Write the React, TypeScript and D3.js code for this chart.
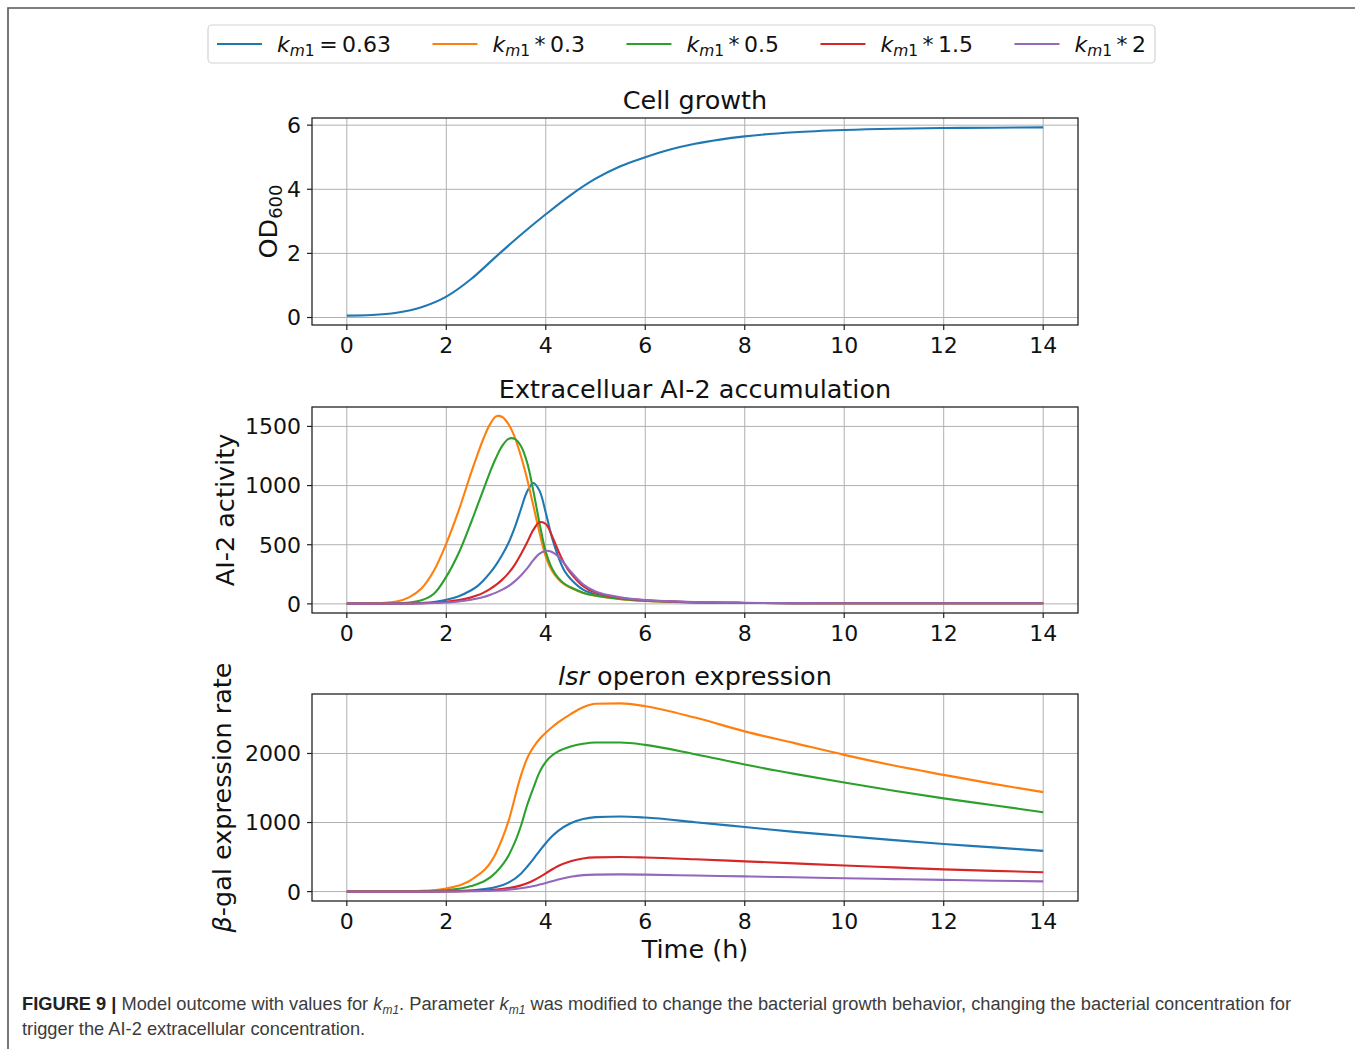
import React, { useEffect, useRef } from "react";
import * as d3 from "d3";

// ---------------- data ----------------
const seriesOps = ["=", "*", "*", "*", "*"];
const seriesFactors = ["0.63", "0.3", "0.5", "1.5", "2"];
const seriesColors = ["#1f77b4", "#ff7f0e", "#2ca02c", "#d62728", "#9467bd"];

const xTicks = [0, 2, 4, 6, 8, 10, 12, 14];

// Panel 1: Cell growth
const timesGrowth = [0, 0.5, 1, 1.5, 2, 2.5, 3, 3.5, 4, 4.5, 5, 5.5, 6, 6.5, 7, 7.5, 8, 9, 10, 11, 12, 13, 14];
const od600 = [0.06, 0.08, 0.15, 0.32, 0.65, 1.2, 1.9, 2.58, 3.22, 3.82, 4.33, 4.72, 5.0, 5.24, 5.42, 5.55, 5.65, 5.78, 5.85, 5.89, 5.91, 5.92, 5.93];
const yTicksGrowth = [0, 2, 4, 6];

// Panel 2: Extracellular AI-2
const timesAI2 = [0, 0.5, 1, 1.25, 1.5, 1.75, 2, 2.25, 2.5, 2.625, 2.75, 2.875, 3, 3.125, 3.25, 3.375, 3.5, 3.625, 3.75, 3.875, 4, 4.125, 4.25, 4.375, 4.5, 4.75, 5, 5.5, 6, 7, 8, 9, 10, 11, 12, 13, 14];
const ai2Base = [2, 2, 3, 4, 8, 16, 35, 65, 115, 150, 200, 260, 330, 415, 515, 645, 800, 950, 1022, 955, 770, 560, 400, 280, 210, 120, 80, 45, 28, 13, 8, 6, 5, 5, 5, 5, 5];
const ai2K03 = [2, 3, 20, 55, 130, 280, 510, 790, 1110, 1260, 1400, 1515, 1585, 1580, 1520, 1410, 1250, 1055, 830, 600, 400, 280, 210, 165, 135, 92, 68, 40, 25, 12, 8, 6, 5, 5, 5, 5, 5];
const ai2K05 = [2, 2, 5, 12, 30, 85, 230, 430, 690, 830, 970, 1110, 1235, 1335, 1395, 1395, 1335, 1195, 955, 680, 440, 300, 220, 170, 140, 95, 70, 42, 26, 13, 8, 6, 5, 5, 5, 5, 5];
const ai2K15 = [2, 2, 2, 3, 5, 10, 18, 32, 55, 72, 95, 125, 160, 205, 260, 330, 420, 520, 625, 690, 675, 575, 450, 340, 260, 150, 95, 50, 30, 14, 8, 6, 5, 5, 5, 5, 5];
const ai2K2 = [2, 2, 2, 3, 4, 7, 12, 20, 35, 45, 58, 75, 95, 120, 150, 190, 240, 300, 370, 425, 448, 438, 400, 340, 275, 165, 105, 55, 32, 15, 9, 6, 5, 5, 5, 5, 5];
const yTicksAI2 = [0, 500, 1000, 1500];

// Panel 3: lsr operon expression
const timesLsr = [0, 0.5, 1, 1.5, 2, 2.5, 3, 3.25, 3.5, 3.625, 3.75, 3.875, 4, 4.125, 4.25, 4.5, 4.75, 5, 5.5, 6, 7, 8, 9, 10, 11, 12, 13, 14];
const lsrBase = [0, 0, 0, 1, 5, 18, 65, 130, 260, 360, 470, 590, 700, 800, 880, 990, 1050, 1078, 1088, 1072, 1005, 935, 865, 805, 745, 690, 640, 590];
const lsrK03 = [0, 0, 2, 10, 45, 170, 560, 1020, 1680, 1930, 2090, 2210, 2300, 2380, 2450, 2570, 2670, 2720, 2725, 2685, 2520, 2320, 2150, 1980, 1825, 1690, 1560, 1440];
const lsrK05 = [0, 0, 1, 5, 20, 80, 280, 520, 950, 1250, 1500, 1730, 1880, 1970, 2030, 2100, 2140, 2160, 2158, 2125, 1990, 1840, 1705, 1580, 1460, 1350, 1250, 1150];
const lsrK15 = [0, 0, 0, 0, 2, 8, 28, 50, 90, 120, 160, 210, 265, 320, 370, 440, 480, 495, 500, 493, 468, 438, 408, 378, 350, 322, 300, 280];
const lsrK2 = [0, 0, 0, 0, 1, 5, 15, 28, 48, 62, 80, 102, 125, 150, 175, 215, 238, 246, 249, 246, 233, 220, 207, 193, 181, 169, 158, 148];
const yTicksLsr = [0, 1000, 2000];

// ---------------- layout ----------------
const W = 1355;
const H = 1049;
const FONT = "'DejaVu Sans', sans-serif";

export default function App() {
  const ref = useRef<SVGSVGElement | null>(null);

  useEffect(() => {
    const svg = d3.select(ref.current);
    svg.selectAll("*").remove();

    // frame
    svg.append("path").attr("d", `M8,${H} L8,8 L${W},8`).attr("fill", "none").attr("stroke", "#555").attr("stroke-width", 1.6);

    const axL = 312, axR = 1078;
    const x = d3.scaleLinear().domain([-0.7, 14.7]).range([axL, axR]);

    const panels = [
      { top: 118, bottom: 325, times: timesGrowth, series: [od600], yTicks: yTicksGrowth, curve: d3.curveMonotoneX },
      { top: 407, bottom: 613, times: timesAI2, series: [ai2Base, ai2K03, ai2K05, ai2K15, ai2K2], yTicks: yTicksAI2, curve: d3.curveCatmullRom.alpha(0.5) },
      { top: 694, bottom: 901, times: timesLsr, series: [lsrBase, lsrK03, lsrK05, lsrK15, lsrK2], yTicks: yTicksLsr, curve: d3.curveMonotoneX },
    ];

    panels.forEach((p, pi) => {
      const all = p.series.flat();
      const mn = d3.min(all) as number, mx = d3.max(all) as number;
      const m = (mx - mn) * 0.05;
      const y = d3.scaleLinear().domain([mn - m, mx + m]).range([p.bottom, p.top]);
      const g = svg.append("g");
      const clipId = `clip${pi}`;
      g.append("clipPath").attr("id", clipId).append("rect").attr("x", axL).attr("y", p.top).attr("width", axR - axL).attr("height", p.bottom - p.top);

      // grid
      g.selectAll(".gx").data(xTicks).enter().append("line")
        .attr("x1", d => x(d)).attr("x2", d => x(d)).attr("y1", p.top).attr("y2", p.bottom)
        .attr("stroke", "#b0b0b0").attr("stroke-width", 1);
      g.selectAll(".gy").data(p.yTicks).enter().append("line")
        .attr("x1", axL).attr("x2", axR).attr("y1", d => y(d)).attr("y2", d => y(d))
        .attr("stroke", "#b0b0b0").attr("stroke-width", 1);

      // lines
      p.series.forEach((s, si) => {
        const line = d3.line<number>().x((_, i) => x(p.times[i])).y(d => y(d)).curve(p.curve as any);
        g.append("path").attr("d", line(s) as string).attr("fill", "none")
          .attr("stroke", seriesColors[si]).attr("stroke-width", 2.1).attr("stroke-linejoin", "round")
          .attr("clip-path", `url(#${clipId})`);
      });

      // spines
      g.append("rect").attr("x", axL).attr("y", p.top).attr("width", axR - axL).attr("height", p.bottom - p.top)
        .attr("fill", "none").attr("stroke", "#222").attr("stroke-width", 1.3);

      // ticks
      g.selectAll(".tx").data(xTicks).enter().append("line")
        .attr("x1", d => x(d)).attr("x2", d => x(d)).attr("y1", p.bottom).attr("y2", p.bottom + 5)
        .attr("stroke", "#222").attr("stroke-width", 1.2);
      g.selectAll(".tl").data(xTicks).enter().append("text")
        .attr("x", d => x(d)).attr("y", p.bottom + 28).attr("text-anchor", "middle")
        .attr("font-family", FONT).attr("font-size", 22).attr("fill", "#111").text(d => String(d));
      g.selectAll(".ty").data(p.yTicks).enter().append("line")
        .attr("x1", axL - 5).attr("x2", axL).attr("y1", d => y(d)).attr("y2", d => y(d))
        .attr("stroke", "#222").attr("stroke-width", 1.2);
      g.selectAll(".yl").data(p.yTicks).enter().append("text")
        .attr("x", axL - 11).attr("y", d => y(d)).attr("dy", "0.36em").attr("text-anchor", "end")
        .attr("font-family", FONT).attr("font-size", 22).attr("fill", "#111").text(d => String(d));

      // titles
      const cx = (axL + axR) / 2;
      const t = g.append("text").attr("x", cx).attr("y", p.top - 9).attr("text-anchor", "middle")
        .attr("font-family", FONT).attr("font-size", 25.5).attr("fill", "#111");
      if (pi === 0) t.text("Cell growth");
      if (pi === 1) t.text("Extracelluar AI-2 accumulation");
      if (pi === 2) {
        t.append("tspan").attr("font-style", "italic").text("lsr");
        t.append("tspan").text(" operon expression");
      }

      // y labels
      const cy = (p.top + p.bottom) / 2;
      const lx = [268, 225, 222][pi];
      const yl = g.append("text").attr("transform", `translate(${lx},${cy}) rotate(-90)`)
        .attr("text-anchor", "middle").attr("dy", "0.36em")
        .attr("font-family", FONT).attr("font-size", 25.5).attr("fill", "#111");
      if (pi === 0) {
        yl.append("tspan").text("OD");
        yl.append("tspan").attr("font-size", 18).attr("dy", 5).text("600");
      }
      if (pi === 1) yl.text("AI-2 activity");
      if (pi === 2) {
        yl.append("tspan").attr("font-style", "italic").text("β");
        yl.append("tspan").text("-gal expression rate");
      }
    });

    // x label
    svg.append("text").attr("x", (axL + axR) / 2).attr("y", 958).attr("text-anchor", "middle")
      .attr("font-family", FONT).attr("font-size", 25.5).attr("fill", "#111").text("Time (h)");

    // legend
    const lg = svg.append("g");
    const boxL = 208, boxR = 1155;
    const box = lg.append("rect").attr("y", 25).attr("height", 38).attr("rx", 4)
      .attr("x", boxL).attr("width", boxR - boxL)
      .attr("fill", "white").attr("stroke", "#d3d3d3").attr("stroke-width", 1.2);
    const items: { line: any; text: any; w: number }[] = [];
    seriesOps.forEach((op, i) => {
      const ln = lg.append("line").attr("y1", 44).attr("y2", 44).attr("stroke", seriesColors[i]).attr("stroke-width", 2);
      const tx = lg.append("text").attr("y", 52).attr("font-family", FONT).attr("font-size", 22).attr("fill", "#111");
      tx.append("tspan").attr("font-style", "italic").text("k");
      tx.append("tspan").attr("font-style", "italic").attr("font-size", 15.5).attr("dy", 4).text("m");
      tx.append("tspan").attr("font-size", 15.5).text("1");
      tx.append("tspan").attr("dy", -4).text("\u2009" + op + "\u2009" + seriesFactors[i]);
      const w = (tx.node() as SVGTextElement).getComputedTextLength();
      items.push({ line: ln, text: tx, w });
    });
    const handleLen = 45, pad = 15, border = 9;
    const sumItems = items.reduce((a, it) => a + handleLen + pad + it.w, 0);
    const colSp = (boxR - boxL - 2 * border - sumItems) / (items.length - 1);
    let cur = boxL + border;
    box.attr("x", boxL);
    items.forEach(it => {
      it.line.attr("x1", cur).attr("x2", cur + handleLen);
      it.text.attr("x", cur + handleLen + pad);
      cur += handleLen + pad + it.w + colSp;
    });

    // caption
    const CF = "'Liberation Sans', Arial, Helvetica, sans-serif";
    const c1 = svg.append("text").attr("x", 22).attr("y", 1010).attr("font-family", CF).attr("font-size", 16.5).attr("fill", "#3c3c3c");
    c1.append("tspan").attr("font-weight", "bold").attr("fill", "#222").text("FIGURE 9 | ");
    c1.append("tspan").text("Model outcome with values for ");
    c1.append("tspan").attr("font-style", "italic").text("k");
    c1.append("tspan").attr("font-style", "italic").attr("font-size", 12).attr("dy", 4).text("m1");
    c1.append("tspan").attr("dy", -4).text(". Parameter ");
    c1.append("tspan").attr("font-style", "italic").text("k");
    c1.append("tspan").attr("font-style", "italic").attr("font-size", 12).attr("dy", 4).text("m1");
    c1.append("tspan").attr("dy", -4).text(" was modified to change the bacterial growth behavior, changing the bacterial concentration for");
    const w1 = (c1.node() as SVGTextElement).getComputedTextLength();
    const fs = 16.5 * Math.min(1.15, Math.max(0.85, 1273 / w1));
    c1.attr("font-size", fs);
    svg.append("text").attr("x", 22).attr("y", 1035).attr("font-family", CF).attr("font-size", fs).attr("fill", "#3c3c3c")
      .text("trigger the AI-2 extracellular concentration.");
  }, []);

  return (
    <svg ref={ref} width={W} height={H} style={{ position: "absolute", left: 0, top: 0, background: "white" }} />
  );
}
